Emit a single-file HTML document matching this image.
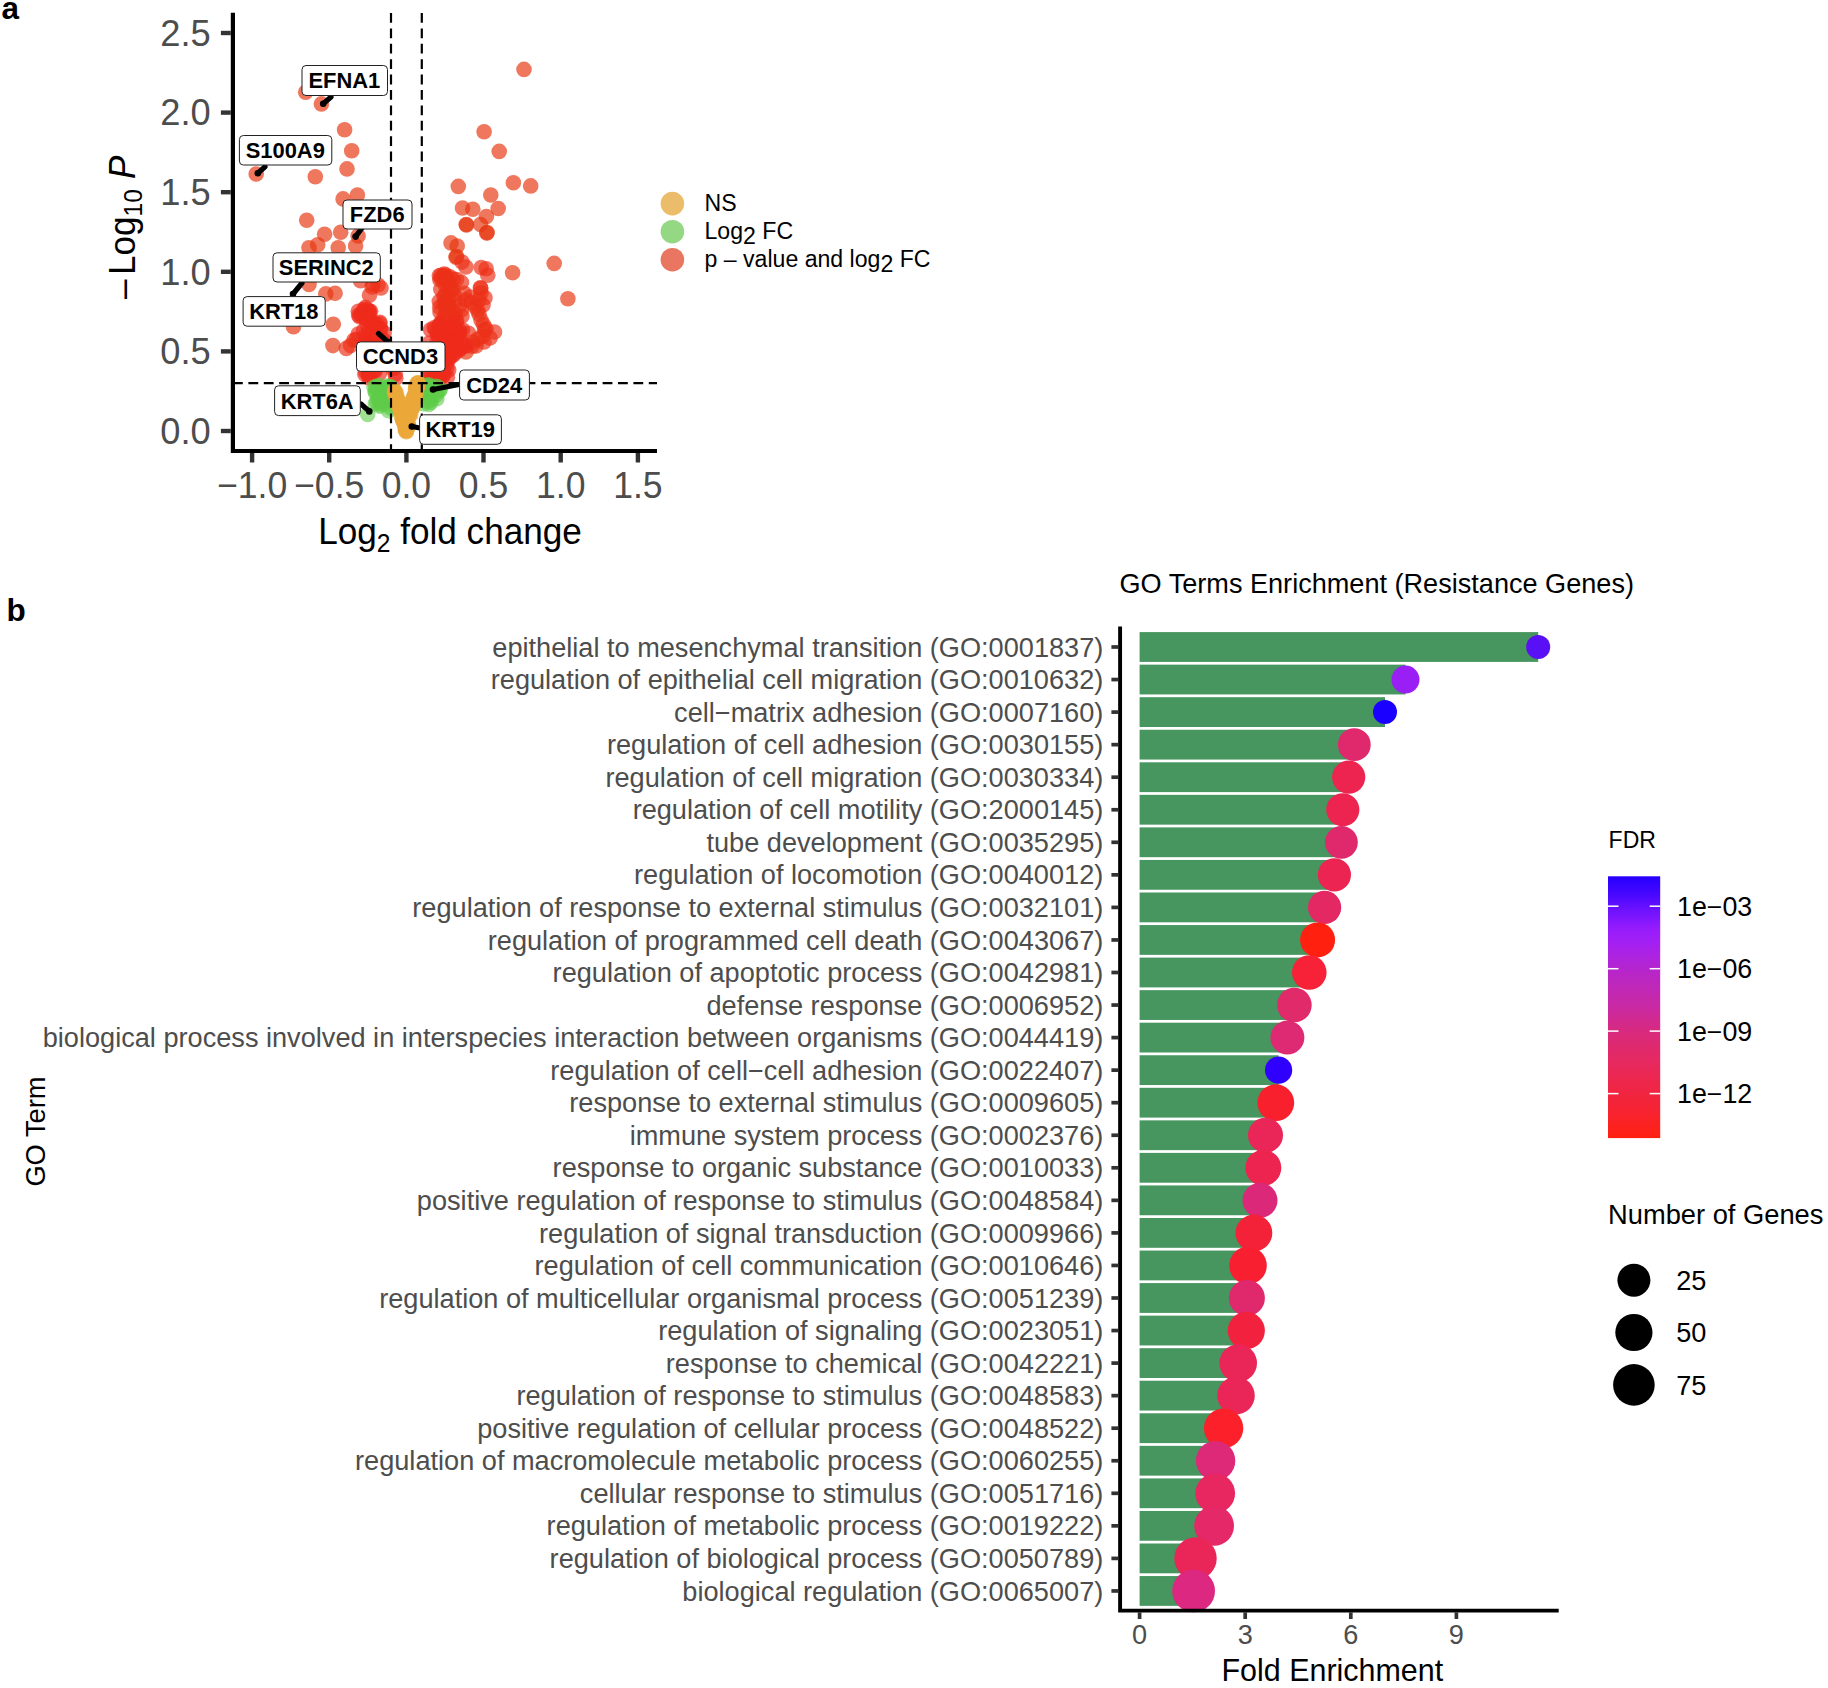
<!DOCTYPE html>
<html lang="en"><head><meta charset="utf-8"><title>Figure</title>
<style>html,body{margin:0;padding:0;background:#fff}svg{display:block}text{font-family:"Liberation Sans", sans-serif}</style></head>
<body>
<svg width="1828" height="1688" viewBox="0 0 1828 1688">
<rect width="1828" height="1688" fill="#fff"/>
<g id="panel-a">
<text x="1.5" y="18.5" font-size="31.5" font-weight="bold" fill="#000">a</text>
<g fill="#E63610" fill-opacity="0.68">
<circle cx="524.0" cy="69.4" r="7.8"/>
<circle cx="305.7" cy="92.3" r="7.8"/>
<circle cx="321.4" cy="103.9" r="7.8"/>
<circle cx="344.6" cy="129.7" r="7.8"/>
<circle cx="351.7" cy="150.7" r="7.8"/>
<circle cx="347.0" cy="168.9" r="7.8"/>
<circle cx="315.3" cy="176.7" r="7.8"/>
<circle cx="256.2" cy="174.0" r="7.8"/>
<circle cx="484.1" cy="131.7" r="7.8"/>
<circle cx="499.2" cy="151.4" r="7.8"/>
<circle cx="458.3" cy="186.4" r="7.8"/>
<circle cx="513.4" cy="182.7" r="7.8"/>
<circle cx="530.7" cy="185.9" r="7.8"/>
<circle cx="490.8" cy="195.0" r="7.8"/>
<circle cx="357.4" cy="195.0" r="7.8"/>
<circle cx="343.1" cy="198.9" r="7.8"/>
<circle cx="462.5" cy="208.0" r="7.8"/>
<circle cx="472.8" cy="209.2" r="7.8"/>
<circle cx="498.2" cy="208.5" r="7.8"/>
<circle cx="486.4" cy="216.6" r="7.8"/>
<circle cx="306.7" cy="220.3" r="7.8"/>
<circle cx="466.2" cy="224.5" r="7.8"/>
<circle cx="480.5" cy="224.5" r="7.8"/>
<circle cx="487.1" cy="232.6" r="7.8"/>
<circle cx="466.5" cy="225.0" r="7.8"/>
<circle cx="486.8" cy="233.0" r="7.8"/>
<circle cx="324.6" cy="234.2" r="7.8"/>
<circle cx="340.7" cy="232.3" r="7.8"/>
<circle cx="358.1" cy="236.0" r="7.8"/>
<circle cx="317.7" cy="244.7" r="7.8"/>
<circle cx="309.0" cy="247.8" r="7.8"/>
<circle cx="338.2" cy="247.8" r="7.8"/>
<circle cx="355.6" cy="246.0" r="7.8"/>
<circle cx="309.0" cy="284.5" r="7.8"/>
<circle cx="325.8" cy="293.9" r="7.8"/>
<circle cx="335.1" cy="293.2" r="7.8"/>
<circle cx="333.3" cy="324.3" r="7.8"/>
<circle cx="293.5" cy="326.8" r="7.8"/>
<circle cx="332.9" cy="345.6" r="7.8"/>
<circle cx="451.0" cy="242.9" r="7.8"/>
<circle cx="457.2" cy="246.0" r="7.8"/>
<circle cx="456.0" cy="257.2" r="7.8"/>
<circle cx="456.6" cy="256.6" r="7.8"/>
<circle cx="512.6" cy="272.7" r="7.8"/>
<circle cx="554.2" cy="263.4" r="7.8"/>
<circle cx="567.9" cy="298.8" r="7.8"/>
<circle cx="466.0" cy="352.0" r="7.8"/>
</g>
<g fill="#EC3018" fill-opacity="0.68">
<circle cx="373.0" cy="284.5" r="7.8"/>
<circle cx="360.6" cy="280.8" r="7.8"/>
<circle cx="378.0" cy="285.0" r="7.8"/>
<circle cx="381.0" cy="288.0" r="7.8"/>
<circle cx="372.0" cy="287.0" r="7.8"/>
<circle cx="369.5" cy="295.3" r="7.8"/>
<circle cx="365.4" cy="307.4" r="7.8"/>
<circle cx="350.6" cy="345.6" r="7.8"/>
<circle cx="346.3" cy="348.4" r="7.8"/>
<circle cx="353.9" cy="340.2" r="7.8"/>
<circle cx="356.3" cy="339.3" r="7.8"/>
<circle cx="462.0" cy="262.1" r="7.8"/>
<circle cx="465.9" cy="267.0" r="7.8"/>
<circle cx="486.1" cy="268.7" r="7.8"/>
<circle cx="481.2" cy="267.6" r="7.8"/>
<circle cx="487.8" cy="275.2" r="7.8"/>
<circle cx="443.4" cy="276.3" r="7.8"/>
<circle cx="450.0" cy="276.9" r="7.8"/>
<circle cx="456.6" cy="279.6" r="7.8"/>
<circle cx="461.5" cy="282.4" r="7.8"/>
<circle cx="447.0" cy="278.0" r="7.8"/>
<circle cx="453.0" cy="279.0" r="7.8"/>
<circle cx="480.4" cy="287.8" r="7.8"/>
<circle cx="480.8" cy="288.2" r="7.8"/>
<circle cx="485.0" cy="297.7" r="7.8"/>
<circle cx="445.6" cy="294.4" r="7.8"/>
<circle cx="448.9" cy="298.8" r="7.8"/>
<circle cx="464.2" cy="293.3" r="7.8"/>
<circle cx="471.3" cy="302.6" r="7.8"/>
<circle cx="475.2" cy="306.4" r="7.8"/>
<circle cx="479.0" cy="314.1" r="7.8"/>
<circle cx="461.5" cy="309.7" r="7.8"/>
<circle cx="453.3" cy="312.4" r="7.8"/>
<circle cx="445.1" cy="315.2" r="7.8"/>
<circle cx="442.4" cy="320.6" r="7.8"/>
<circle cx="456.6" cy="320.6" r="7.8"/>
<circle cx="483.4" cy="324.5" r="7.8"/>
<circle cx="486.1" cy="328.9" r="7.8"/>
<circle cx="494.5" cy="332.0" r="7.8"/>
<circle cx="434.1" cy="327.8" r="7.8"/>
<circle cx="439.6" cy="331.6" r="7.8"/>
<circle cx="450.6" cy="331.6" r="7.8"/>
<circle cx="468.6" cy="333.2" r="7.8"/>
<circle cx="458.8" cy="333.8" r="7.8"/>
<circle cx="446.0" cy="287.0" r="7.8"/>
<circle cx="451.0" cy="290.0" r="7.8"/>
<circle cx="444.0" cy="303.0" r="7.8"/>
<circle cx="449.0" cy="306.0" r="7.8"/>
<circle cx="455.0" cy="301.0" r="7.8"/>
<circle cx="466.0" cy="300.0" r="7.8"/>
<circle cx="470.0" cy="297.0" r="7.8"/>
<circle cx="446.0" cy="309.0" r="7.8"/>
<circle cx="451.0" cy="318.0" r="7.8"/>
<circle cx="462.0" cy="316.0" r="7.8"/>
<circle cx="440.0" cy="312.0" r="7.8"/>
<circle cx="479.0" cy="300.0" r="7.8"/>
<circle cx="477.5" cy="310.0" r="7.8"/>
<circle cx="481.0" cy="320.0" r="7.8"/>
<circle cx="484.5" cy="330.0" r="7.8"/>
<circle cx="478.0" cy="339.0" r="7.8"/>
<circle cx="472.5" cy="342.0" r="7.8"/>
<circle cx="481.0" cy="293.0" r="7.8"/>
<circle cx="483.0" cy="305.0" r="7.8"/>
<circle cx="482.1" cy="336.8" r="7.8"/>
<circle cx="490.0" cy="338.0" r="7.8"/>
<circle cx="484.0" cy="342.0" r="7.8"/>
<circle cx="476.0" cy="346.0" r="7.8"/>
<circle cx="472.1" cy="346.2" r="7.8"/>
<circle cx="459.7" cy="348.7" r="7.8"/>
<circle cx="440.8" cy="289.5" r="7.8"/>
<circle cx="439.7" cy="307.2" r="7.8"/>
<circle cx="445.8" cy="300.9" r="7.8"/>
<circle cx="445.5" cy="275.1" r="7.8"/>
<circle cx="444.3" cy="274.0" r="7.8"/>
<circle cx="439.4" cy="275.8" r="7.8"/>
<circle cx="454.3" cy="294.9" r="7.8"/>
<circle cx="441.5" cy="278.7" r="7.8"/>
<circle cx="459.3" cy="305.9" r="7.8"/>
<circle cx="446.6" cy="303.2" r="7.8"/>
<circle cx="439.3" cy="324.7" r="7.8"/>
<circle cx="445.4" cy="318.4" r="7.8"/>
<circle cx="439.9" cy="279.8" r="7.8"/>
<circle cx="452.8" cy="288.7" r="7.8"/>
<circle cx="447.6" cy="281.8" r="7.8"/>
<circle cx="446.4" cy="306.5" r="7.8"/>
<circle cx="439.3" cy="301.6" r="7.8"/>
<circle cx="441.0" cy="275.2" r="7.8"/>
<circle cx="447.9" cy="308.7" r="7.8"/>
<circle cx="448.7" cy="289.0" r="7.8"/>
<circle cx="444.0" cy="296.5" r="7.8"/>
<circle cx="455.3" cy="314.9" r="7.8"/>
</g>
<g fill="#EE2A1C" fill-opacity="0.66">
<circle cx="369.2" cy="318.0" r="7.8"/>
<circle cx="380.3" cy="328.4" r="7.8"/>
<circle cx="365.1" cy="336.0" r="7.8"/>
<circle cx="364.4" cy="345.3" r="7.8"/>
<circle cx="376.7" cy="324.5" r="7.8"/>
<circle cx="366.8" cy="314.6" r="7.8"/>
<circle cx="368.3" cy="310.5" r="7.8"/>
<circle cx="373.2" cy="337.3" r="7.8"/>
<circle cx="367.2" cy="341.4" r="7.8"/>
<circle cx="373.4" cy="334.7" r="7.8"/>
<circle cx="368.8" cy="330.5" r="7.8"/>
<circle cx="383.8" cy="340.1" r="7.8"/>
<circle cx="374.3" cy="326.5" r="7.8"/>
<circle cx="369.4" cy="311.2" r="7.8"/>
<circle cx="384.2" cy="332.9" r="7.8"/>
<circle cx="365.7" cy="339.4" r="7.8"/>
<circle cx="374.2" cy="323.3" r="7.8"/>
<circle cx="364.7" cy="309.8" r="7.8"/>
<circle cx="358.6" cy="315.2" r="7.8"/>
<circle cx="370.6" cy="311.2" r="7.8"/>
<circle cx="361.4" cy="313.8" r="7.8"/>
<circle cx="379.7" cy="323.5" r="7.8"/>
<circle cx="365.2" cy="312.0" r="7.8"/>
<circle cx="380.7" cy="329.3" r="7.8"/>
<circle cx="381.5" cy="339.3" r="7.8"/>
<circle cx="366.1" cy="319.3" r="7.8"/>
<circle cx="379.9" cy="322.3" r="7.8"/>
<circle cx="364.7" cy="344.4" r="7.8"/>
<circle cx="361.2" cy="315.5" r="7.8"/>
<circle cx="367.1" cy="317.6" r="7.8"/>
<circle cx="363.5" cy="330.8" r="7.8"/>
<circle cx="363.9" cy="309.2" r="7.8"/>
<circle cx="371.3" cy="322.7" r="7.8"/>
<circle cx="378.1" cy="344.3" r="7.8"/>
<circle cx="373.1" cy="328.1" r="7.8"/>
<circle cx="358.3" cy="334.0" r="7.8"/>
<circle cx="379.8" cy="342.3" r="7.8"/>
<circle cx="380.1" cy="341.4" r="7.8"/>
<circle cx="366.8" cy="323.5" r="7.8"/>
<circle cx="369.2" cy="312.8" r="7.8"/>
<circle cx="358.3" cy="311.3" r="7.8"/>
<circle cx="359.7" cy="316.7" r="7.8"/>
<circle cx="365.7" cy="372.1" r="7.8"/>
<circle cx="368.8" cy="368.0" r="7.8"/>
<circle cx="375.6" cy="369.2" r="7.8"/>
<circle cx="392.0" cy="368.3" r="7.8"/>
<circle cx="368.8" cy="375.4" r="7.8"/>
<circle cx="375.1" cy="371.0" r="7.8"/>
<circle cx="367.9" cy="372.4" r="7.8"/>
<circle cx="395.8" cy="378.2" r="7.8"/>
<circle cx="379.5" cy="373.6" r="7.8"/>
<circle cx="367.3" cy="369.0" r="7.8"/>
<circle cx="372.5" cy="372.1" r="7.8"/>
<circle cx="369.2" cy="377.9" r="7.8"/>
<circle cx="394.4" cy="368.3" r="7.8"/>
<circle cx="368.7" cy="374.3" r="7.8"/>
<circle cx="364.9" cy="374.5" r="7.8"/>
<circle cx="395.3" cy="374.3" r="7.8"/>
<circle cx="441.2" cy="372.9" r="7.8"/>
<circle cx="443.6" cy="337.4" r="7.8"/>
<circle cx="458.4" cy="331.9" r="7.8"/>
<circle cx="450.2" cy="353.4" r="7.8"/>
<circle cx="437.2" cy="341.5" r="7.8"/>
<circle cx="448.7" cy="369.9" r="7.8"/>
<circle cx="444.0" cy="372.3" r="7.8"/>
<circle cx="442.8" cy="370.3" r="7.8"/>
<circle cx="449.5" cy="335.4" r="7.8"/>
<circle cx="429.2" cy="343.0" r="7.8"/>
<circle cx="440.9" cy="323.6" r="7.8"/>
<circle cx="457.0" cy="337.3" r="7.8"/>
<circle cx="433.8" cy="378.4" r="7.8"/>
<circle cx="447.4" cy="377.3" r="7.8"/>
<circle cx="431.8" cy="378.3" r="7.8"/>
<circle cx="438.0" cy="335.0" r="7.8"/>
<circle cx="437.2" cy="333.6" r="7.8"/>
<circle cx="448.8" cy="358.8" r="7.8"/>
<circle cx="436.3" cy="371.6" r="7.8"/>
<circle cx="445.4" cy="360.5" r="7.8"/>
<circle cx="453.2" cy="327.0" r="7.8"/>
<circle cx="442.7" cy="375.7" r="7.8"/>
<circle cx="437.5" cy="366.3" r="7.8"/>
<circle cx="459.3" cy="332.5" r="7.8"/>
<circle cx="460.9" cy="341.6" r="7.8"/>
<circle cx="432.3" cy="379.3" r="7.8"/>
<circle cx="465.9" cy="345.7" r="7.8"/>
<circle cx="430.8" cy="364.8" r="7.8"/>
<circle cx="435.6" cy="329.5" r="7.8"/>
<circle cx="443.3" cy="375.4" r="7.8"/>
<circle cx="460.0" cy="330.6" r="7.8"/>
<circle cx="438.7" cy="379.8" r="7.8"/>
<circle cx="450.4" cy="342.7" r="7.8"/>
<circle cx="430.6" cy="329.7" r="7.8"/>
<circle cx="438.6" cy="379.3" r="7.8"/>
<circle cx="455.0" cy="353.1" r="7.8"/>
<circle cx="460.6" cy="347.6" r="7.8"/>
<circle cx="430.2" cy="370.7" r="7.8"/>
<circle cx="440.6" cy="336.9" r="7.8"/>
<circle cx="452.4" cy="336.2" r="7.8"/>
<circle cx="445.8" cy="337.3" r="7.8"/>
<circle cx="462.6" cy="329.7" r="7.8"/>
<circle cx="446.7" cy="342.9" r="7.8"/>
<circle cx="451.1" cy="356.4" r="7.8"/>
<circle cx="463.5" cy="346.8" r="7.8"/>
<circle cx="444.3" cy="351.6" r="7.8"/>
<circle cx="428.5" cy="352.9" r="7.8"/>
<circle cx="434.7" cy="348.0" r="7.8"/>
<circle cx="456.3" cy="322.2" r="7.8"/>
<circle cx="447.3" cy="332.2" r="7.8"/>
<circle cx="439.5" cy="364.8" r="7.8"/>
<circle cx="449.4" cy="341.2" r="7.8"/>
<circle cx="449.3" cy="354.8" r="7.8"/>
<circle cx="450.0" cy="328.3" r="7.8"/>
<circle cx="439.9" cy="336.7" r="7.8"/>
<circle cx="437.9" cy="367.6" r="7.8"/>
<circle cx="448.4" cy="355.1" r="7.8"/>
<circle cx="434.4" cy="375.8" r="7.8"/>
<circle cx="439.8" cy="358.1" r="7.8"/>
<circle cx="448.6" cy="352.2" r="7.8"/>
<circle cx="446.9" cy="348.7" r="7.8"/>
<circle cx="459.1" cy="350.2" r="7.8"/>
<circle cx="446.9" cy="363.3" r="7.8"/>
<circle cx="429.4" cy="377.6" r="7.8"/>
<circle cx="453.4" cy="355.0" r="7.8"/>
<circle cx="428.2" cy="371.6" r="7.8"/>
<circle cx="445.9" cy="329.2" r="7.8"/>
<circle cx="439.3" cy="326.3" r="7.8"/>
<circle cx="453.3" cy="326.3" r="7.8"/>
<circle cx="446.8" cy="368.3" r="7.8"/>
</g>
<g fill="#5FCC4A" fill-opacity="0.6">
<circle cx="385.9" cy="389.0" r="7.8"/>
<circle cx="376.8" cy="402.2" r="7.8"/>
<circle cx="390.5" cy="408.0" r="7.8"/>
<circle cx="390.1" cy="390.7" r="7.8"/>
<circle cx="381.8" cy="395.4" r="7.8"/>
<circle cx="388.7" cy="410.7" r="7.8"/>
<circle cx="380.8" cy="389.2" r="7.8"/>
<circle cx="379.2" cy="398.4" r="7.8"/>
<circle cx="378.7" cy="390.1" r="7.8"/>
<circle cx="375.3" cy="403.8" r="7.8"/>
<circle cx="381.2" cy="399.4" r="7.8"/>
<circle cx="379.0" cy="385.5" r="7.8"/>
<circle cx="382.8" cy="401.2" r="7.8"/>
<circle cx="390.7" cy="386.7" r="7.8"/>
<circle cx="390.6" cy="405.5" r="7.8"/>
<circle cx="377.8" cy="387.7" r="7.8"/>
<circle cx="387.0" cy="386.0" r="7.8"/>
<circle cx="375.3" cy="392.0" r="7.8"/>
<circle cx="389.4" cy="396.0" r="7.8"/>
<circle cx="379.8" cy="406.3" r="7.8"/>
<circle cx="389.5" cy="388.9" r="7.8"/>
<circle cx="385.8" cy="399.8" r="7.8"/>
<circle cx="374.0" cy="387.3" r="7.8"/>
<circle cx="381.6" cy="402.9" r="7.8"/>
<circle cx="389.9" cy="386.9" r="7.8"/>
<circle cx="387.7" cy="401.5" r="7.8"/>
<circle cx="388.4" cy="387.2" r="7.8"/>
<circle cx="388.5" cy="386.7" r="7.8"/>
<circle cx="379.1" cy="396.8" r="7.8"/>
<circle cx="389.7" cy="399.4" r="7.8"/>
<circle cx="375.3" cy="392.0" r="7.8"/>
<circle cx="377.5" cy="398.7" r="7.8"/>
<circle cx="375.9" cy="387.8" r="7.8"/>
<circle cx="376.6" cy="386.3" r="7.8"/>
<circle cx="378.5" cy="393.1" r="7.8"/>
<circle cx="379.9" cy="404.7" r="7.8"/>
<circle cx="425.0" cy="395.0" r="7.8"/>
<circle cx="422.3" cy="391.9" r="7.8"/>
<circle cx="422.3" cy="390.0" r="7.8"/>
<circle cx="430.1" cy="399.7" r="7.8"/>
<circle cx="430.8" cy="388.8" r="7.8"/>
<circle cx="423.3" cy="403.7" r="7.8"/>
<circle cx="428.0" cy="401.4" r="7.8"/>
<circle cx="436.2" cy="394.9" r="7.8"/>
<circle cx="431.2" cy="392.9" r="7.8"/>
<circle cx="436.9" cy="398.8" r="7.8"/>
<circle cx="437.4" cy="391.9" r="7.8"/>
<circle cx="431.5" cy="399.1" r="7.8"/>
<circle cx="428.2" cy="393.1" r="7.8"/>
<circle cx="424.4" cy="386.1" r="7.8"/>
<circle cx="435.7" cy="386.4" r="7.8"/>
<circle cx="425.0" cy="390.1" r="7.8"/>
<circle cx="437.6" cy="386.7" r="7.8"/>
<circle cx="430.9" cy="402.4" r="7.8"/>
<circle cx="426.5" cy="390.6" r="7.8"/>
<circle cx="430.5" cy="390.9" r="7.8"/>
<circle cx="430.2" cy="388.2" r="7.8"/>
<circle cx="439.8" cy="390.3" r="7.8"/>
<circle cx="428.7" cy="404.5" r="7.8"/>
<circle cx="439.9" cy="389.9" r="7.8"/>
<circle cx="428.6" cy="391.2" r="7.8"/>
<circle cx="429.1" cy="385.0" r="7.8"/>
<circle cx="430.7" cy="394.5" r="7.8"/>
<circle cx="431.3" cy="389.0" r="7.8"/>
<circle cx="426.9" cy="385.1" r="7.8"/>
<circle cx="429.4" cy="386.8" r="7.8"/>
<circle cx="367.7" cy="414.5" r="7.8"/>
</g>
<g fill="#EBA83A" fill-opacity="0.75">
<circle cx="406.1" cy="428.6" r="7.8"/>
<circle cx="404.0" cy="421.5" r="7.8"/>
<circle cx="415.1" cy="395.4" r="7.8"/>
<circle cx="395.7" cy="394.6" r="7.8"/>
<circle cx="416.6" cy="384.2" r="7.8"/>
<circle cx="397.9" cy="405.3" r="7.8"/>
<circle cx="416.6" cy="388.7" r="7.8"/>
<circle cx="396.1" cy="397.7" r="7.8"/>
<circle cx="412.8" cy="407.4" r="7.8"/>
<circle cx="396.8" cy="397.9" r="7.8"/>
<circle cx="414.4" cy="397.7" r="7.8"/>
<circle cx="405.5" cy="429.4" r="7.8"/>
<circle cx="408.4" cy="426.1" r="7.8"/>
<circle cx="399.3" cy="405.6" r="7.8"/>
<circle cx="410.9" cy="408.1" r="7.8"/>
<circle cx="397.6" cy="400.4" r="7.8"/>
<circle cx="412.9" cy="399.8" r="7.8"/>
<circle cx="402.7" cy="420.2" r="7.8"/>
<circle cx="414.0" cy="396.5" r="7.8"/>
<circle cx="394.8" cy="390.8" r="7.8"/>
<circle cx="412.2" cy="408.5" r="7.8"/>
<circle cx="399.4" cy="404.9" r="7.8"/>
<circle cx="407.7" cy="424.4" r="7.8"/>
<circle cx="403.1" cy="417.5" r="7.8"/>
<circle cx="406.8" cy="428.4" r="7.8"/>
<circle cx="398.6" cy="402.2" r="7.8"/>
<circle cx="412.2" cy="406.1" r="7.8"/>
<circle cx="406.0" cy="425.5" r="7.8"/>
<circle cx="418.1" cy="383.1" r="7.8"/>
<circle cx="401.7" cy="413.1" r="7.8"/>
<circle cx="411.0" cy="408.8" r="7.8"/>
<circle cx="394.6" cy="392.4" r="7.8"/>
<circle cx="408.2" cy="425.1" r="7.8"/>
<circle cx="405.6" cy="425.6" r="7.8"/>
<circle cx="416.7" cy="387.9" r="7.8"/>
<circle cx="395.7" cy="393.2" r="7.8"/>
<circle cx="406.6" cy="430.7" r="7.8"/>
<circle cx="402.2" cy="418.3" r="7.8"/>
<circle cx="410.7" cy="414.8" r="7.8"/>
<circle cx="398.2" cy="399.5" r="7.8"/>
<circle cx="417.1" cy="387.3" r="7.8"/>
<circle cx="402.8" cy="418.9" r="7.8"/>
<circle cx="417.7" cy="382.8" r="7.8"/>
<circle cx="401.0" cy="412.5" r="7.8"/>
<circle cx="408.4" cy="425.7" r="7.8"/>
<circle cx="394.8" cy="392.2" r="7.8"/>
<circle cx="411.5" cy="406.2" r="7.8"/>
<circle cx="395.8" cy="392.4" r="7.8"/>
<circle cx="414.3" cy="401.6" r="7.8"/>
<circle cx="400.4" cy="407.6" r="7.8"/>
<circle cx="414.5" cy="396.4" r="7.8"/>
<circle cx="398.4" cy="403.7" r="7.8"/>
<circle cx="416.0" cy="386.5" r="7.8"/>
<circle cx="402.0" cy="417.4" r="7.8"/>
<circle cx="416.8" cy="384.4" r="7.8"/>
<circle cx="403.1" cy="418.5" r="7.8"/>
<circle cx="407.7" cy="422.4" r="7.8"/>
<circle cx="395.6" cy="393.3" r="7.8"/>
<circle cx="417.5" cy="387.4" r="7.8"/>
<circle cx="404.3" cy="424.5" r="7.8"/>
<circle cx="409.5" cy="414.1" r="7.8"/>
<circle cx="403.6" cy="421.2" r="7.8"/>
<circle cx="414.6" cy="394.8" r="7.8"/>
<circle cx="400.0" cy="409.2" r="7.8"/>
<circle cx="406.8" cy="429.0" r="7.8"/>
<circle cx="405.1" cy="426.1" r="7.8"/>
<circle cx="415.4" cy="389.1" r="7.8"/>
<circle cx="403.4" cy="420.7" r="7.8"/>
<circle cx="417.7" cy="386.0" r="7.8"/>
<circle cx="405.4" cy="430.5" r="7.8"/>
<circle cx="416.3" cy="388.2" r="7.8"/>
<circle cx="406.4" cy="431.8" r="7.8"/>
<circle cx="416.3" cy="392.3" r="7.8"/>
<circle cx="402.8" cy="420.1" r="7.8"/>
<circle cx="412.7" cy="406.8" r="7.8"/>
<circle cx="398.2" cy="401.9" r="7.8"/>
<circle cx="411.7" cy="408.1" r="7.8"/>
<circle cx="396.6" cy="399.8" r="7.8"/>
<circle cx="413.2" cy="399.3" r="7.8"/>
<circle cx="403.8" cy="421.1" r="7.8"/>
<circle cx="407.0" cy="425.7" r="7.8"/>
<circle cx="399.3" cy="406.5" r="7.8"/>
<circle cx="412.2" cy="401.8" r="7.8"/>
<circle cx="401.9" cy="412.4" r="7.8"/>
<circle cx="416.2" cy="388.0" r="7.8"/>
<circle cx="404.5" cy="421.3" r="7.8"/>
<circle cx="409.0" cy="416.2" r="7.8"/>
<circle cx="398.3" cy="402.9" r="7.8"/>
<circle cx="414.7" cy="398.4" r="7.8"/>
<circle cx="405.9" cy="429.4" r="7.8"/>
</g>
<g stroke="#000" stroke-width="2.2" stroke-dasharray="9.8,5.6" fill="none">
<line x1="391.0" y1="13" x2="391.0" y2="451"/>
<line x1="421.8" y1="13" x2="421.8" y2="451"/>
<line x1="233" y1="383.1" x2="657" y2="383.1"/>
</g>
<g stroke="#000" stroke-width="4.2" fill="none" stroke-linecap="butt">
<path d="M232.9 12.8 V451 H657"/>
</g>
<g stroke="#333" stroke-width="4.4" fill="none">
<line x1="220.9" y1="431.0" x2="230.8" y2="431.0"/>
<line x1="220.9" y1="351.4" x2="230.8" y2="351.4"/>
<line x1="220.9" y1="271.8" x2="230.8" y2="271.8"/>
<line x1="220.9" y1="192.2" x2="230.8" y2="192.2"/>
<line x1="220.9" y1="112.6" x2="230.8" y2="112.6"/>
<line x1="220.9" y1="33.0" x2="230.8" y2="33.0"/>
<line x1="252.1" y1="453" x2="252.1" y2="462.5"/>
<line x1="329.2" y1="453" x2="329.2" y2="462.5"/>
<line x1="406.4" y1="453" x2="406.4" y2="462.5"/>
<line x1="483.5" y1="453" x2="483.5" y2="462.5"/>
<line x1="560.7" y1="453" x2="560.7" y2="462.5"/>
<line x1="637.9" y1="453" x2="637.9" y2="462.5"/>
</g>
<text x="210.8" y="443.8" font-size="36.3" text-anchor="end" fill="#4D4D4D">0.0</text>
<text x="210.8" y="364.2" font-size="36.3" text-anchor="end" fill="#4D4D4D">0.5</text>
<text x="210.8" y="284.6" font-size="36.3" text-anchor="end" fill="#4D4D4D">1.0</text>
<text x="210.8" y="205.0" font-size="36.3" text-anchor="end" fill="#4D4D4D">1.5</text>
<text x="210.8" y="125.4" font-size="36.3" text-anchor="end" fill="#4D4D4D">2.0</text>
<text x="210.8" y="45.8" font-size="36.3" text-anchor="end" fill="#4D4D4D">2.5</text>
<text transform="translate(252.1,497.5) scale(0.98,1)" font-size="36.3" text-anchor="middle" fill="#4D4D4D">−1.0</text>
<text transform="translate(329.2,497.5) scale(0.98,1)" font-size="36.3" text-anchor="middle" fill="#4D4D4D">−0.5</text>
<text transform="translate(406.4,497.5) scale(0.98,1)" font-size="36.3" text-anchor="middle" fill="#4D4D4D">0.0</text>
<text transform="translate(483.5,497.5) scale(0.98,1)" font-size="36.3" text-anchor="middle" fill="#4D4D4D">0.5</text>
<text transform="translate(560.7,497.5) scale(0.98,1)" font-size="36.3" text-anchor="middle" fill="#4D4D4D">1.0</text>
<text transform="translate(637.9,497.5) scale(0.98,1)" font-size="36.3" text-anchor="middle" fill="#4D4D4D">1.5</text>
<text transform="translate(450,544.4) scale(0.96,1)" font-size="36.6" text-anchor="middle" fill="#000">Log<tspan font-size="25.6" dy="7.5">2</tspan><tspan dy="-7.5"> fold change</tspan></text>
<g transform="translate(135.2,298.9) rotate(-90) scale(0.96,1)" font-size="36.6" fill="#000">
<text x="0" y="0">–</text>
<text x="24.8" y="0">Log<tspan font-size="25.6" dy="6.3">10</tspan></text>
<text x="124.9" y="0" font-style="italic">P</text>
</g>
<line x1="331" y1="97" x2="323.2" y2="103.7" stroke="#000" stroke-width="5.2" stroke-linecap="round"/>
<circle cx="323.2" cy="103.7" r="3.3" fill="#000"/>
<line x1="265" y1="166.7" x2="257.8" y2="173.2" stroke="#000" stroke-width="5.2" stroke-linecap="round"/>
<circle cx="257.8" cy="173.2" r="3.3" fill="#000"/>
<line x1="362" y1="228" x2="355.6" y2="236.6" stroke="#000" stroke-width="5.2" stroke-linecap="round"/>
<circle cx="355.6" cy="236.6" r="3.3" fill="#000"/>
<line x1="302" y1="283" x2="293" y2="294" stroke="#000" stroke-width="5.2" stroke-linecap="round"/>
<circle cx="293" cy="294" r="3.3" fill="#000"/>
<line x1="378.5" y1="333.5" x2="388" y2="342" stroke="#000" stroke-width="5.2" stroke-linecap="round"/>
<circle cx="388" cy="342" r="3.3" fill="#000"/>
<line x1="459" y1="384.5" x2="433" y2="389.5" stroke="#000" stroke-width="5.2" stroke-linecap="round"/>
<circle cx="433" cy="389.5" r="3.3" fill="#000"/>
<line x1="361" y1="404" x2="369.3" y2="411.4" stroke="#000" stroke-width="5.2" stroke-linecap="round"/>
<circle cx="369.3" cy="411.4" r="3.3" fill="#000"/>
<line x1="420" y1="428" x2="411.8" y2="426.5" stroke="#000" stroke-width="5.2" stroke-linecap="round"/>
<circle cx="411.8" cy="426.5" r="3.3" fill="#000"/>
<rect x="302" y="65.5" width="85.5" height="30.0" rx="4" fill="#fff" stroke="#222" stroke-width="1"/>
<text x="344.4" y="88.3" font-size="21.9" text-anchor="middle" font-weight="bold" fill="#000">EFNA1</text>
<rect x="239.4" y="135.5" width="92.4" height="29.5" rx="4" fill="#fff" stroke="#222" stroke-width="1"/>
<text x="285.3" y="158.1" font-size="21.9" text-anchor="middle" font-weight="bold" fill="#000">S100A9</text>
<rect x="343" y="200" width="69.0" height="29.0" rx="4" fill="#fff" stroke="#222" stroke-width="1"/>
<text x="377.2" y="222.3" font-size="21.9" text-anchor="middle" font-weight="bold" fill="#000">FZD6</text>
<rect x="273" y="252.8" width="107.3" height="29.2" rx="4" fill="#fff" stroke="#222" stroke-width="1"/>
<text x="326.3" y="275.2" font-size="21.9" text-anchor="middle" font-weight="bold" fill="#000">SERINC2</text>
<rect x="243.1" y="296.6" width="82.1" height="29.6" rx="4" fill="#fff" stroke="#222" stroke-width="1"/>
<text x="283.8" y="319.2" font-size="21.9" text-anchor="middle" font-weight="bold" fill="#000">KRT18</text>
<rect x="356.5" y="341.9" width="88.5" height="29.5" rx="4" fill="#fff" stroke="#222" stroke-width="1"/>
<text x="400.4" y="364.4" font-size="21.9" text-anchor="middle" font-weight="bold" fill="#000">CCND3</text>
<rect x="459.6" y="370" width="69.8" height="30.0" rx="4" fill="#fff" stroke="#222" stroke-width="1"/>
<text x="494.2" y="392.8" font-size="21.9" text-anchor="middle" font-weight="bold" fill="#000">CD24</text>
<rect x="274.6" y="385.8" width="85.7" height="29.8" rx="4" fill="#fff" stroke="#222" stroke-width="1"/>
<text x="317.2" y="408.5" font-size="21.9" text-anchor="middle" font-weight="bold" fill="#000">KRT6A</text>
<rect x="419.6" y="414.8" width="81.8" height="29.5" rx="4" fill="#fff" stroke="#222" stroke-width="1"/>
<text x="460.2" y="437.4" font-size="21.9" text-anchor="middle" font-weight="bold" fill="#000">KRT19</text>
<circle cx="672.4" cy="203.6" r="11.8" fill="#EBBD6A"/>
<circle cx="672.4" cy="231.7" r="11.8" fill="#94D884"/>
<circle cx="672.4" cy="259.7" r="11.8" fill="#E87660"/>
<text x="704.5" y="210.8" font-size="23.1" fill="#000">NS</text>
<text x="704.5" y="238.8" font-size="23.1">Log<tspan font-size="23.1" dy="5">2</tspan><tspan dy="-5"> FC</tspan></text>
<text x="704.5" y="266.9" font-size="23.1">p – value and log<tspan font-size="23.1" dy="5">2</tspan><tspan dy="-5"> FC</tspan></text>
</g>
<g id="panel-b">
<text x="6.6" y="621.0" font-size="31.5" font-weight="bold" fill="#000">b</text>
<text x="1119.5" y="593.1" font-size="27.1" fill="#000">GO Terms Enrichment (Resistance Genes)</text>
<g fill="#47955F">
<rect x="1139.6" y="632.10" width="398.6" height="29.8"/>
<rect x="1139.6" y="664.65" width="265.9" height="29.8"/>
<rect x="1139.6" y="697.20" width="245.4" height="29.8"/>
<rect x="1139.6" y="729.75" width="214.7" height="29.8"/>
<rect x="1139.6" y="762.30" width="209.1" height="29.8"/>
<rect x="1139.6" y="794.85" width="203.2" height="29.8"/>
<rect x="1139.6" y="827.40" width="201.8" height="29.8"/>
<rect x="1139.6" y="859.95" width="194.8" height="29.8"/>
<rect x="1139.6" y="892.50" width="185.0" height="29.8"/>
<rect x="1139.6" y="925.05" width="178.0" height="29.8"/>
<rect x="1139.6" y="957.60" width="169.7" height="29.8"/>
<rect x="1139.6" y="990.15" width="154.8" height="29.8"/>
<rect x="1139.6" y="1022.70" width="147.8" height="29.8"/>
<rect x="1139.6" y="1055.25" width="139.0" height="29.8"/>
<rect x="1139.6" y="1087.80" width="136.2" height="29.8"/>
<rect x="1139.6" y="1120.35" width="125.9" height="29.8"/>
<rect x="1139.6" y="1152.90" width="123.7" height="29.8"/>
<rect x="1139.6" y="1185.45" width="120.4" height="29.8"/>
<rect x="1139.6" y="1218.00" width="114.3" height="29.8"/>
<rect x="1139.6" y="1250.55" width="108.4" height="29.8"/>
<rect x="1139.6" y="1283.10" width="107.3" height="29.8"/>
<rect x="1139.6" y="1315.65" width="106.7" height="29.8"/>
<rect x="1139.6" y="1348.20" width="98.6" height="29.8"/>
<rect x="1139.6" y="1380.75" width="96.4" height="29.8"/>
<rect x="1139.6" y="1413.30" width="84.0" height="29.8"/>
<rect x="1139.6" y="1445.85" width="76.0" height="29.8"/>
<rect x="1139.6" y="1478.40" width="75.6" height="29.8"/>
<rect x="1139.6" y="1510.95" width="74.5" height="29.8"/>
<rect x="1139.6" y="1543.50" width="55.9" height="29.8"/>
<rect x="1139.6" y="1576.05" width="54.0" height="29.8"/>
</g>
<circle cx="1538.2" cy="647.00" r="12" fill="#5A10F5"/>
<circle cx="1405.5" cy="679.55" r="14" fill="#9A1FF5"/>
<circle cx="1385" cy="712.10" r="12" fill="#1A00FF"/>
<circle cx="1354.3" cy="744.65" r="16.4" fill="#E0286C"/>
<circle cx="1348.7" cy="777.20" r="16.6" fill="#EE2450"/>
<circle cx="1342.8" cy="809.75" r="16.6" fill="#EE2450"/>
<circle cx="1341.4" cy="842.30" r="16.4" fill="#E0286C"/>
<circle cx="1334.4" cy="874.85" r="16.6" fill="#EC2452"/>
<circle cx="1324.6" cy="907.40" r="16.6" fill="#E42864"/>
<circle cx="1317.6" cy="939.95" r="17.5" fill="#FF2010"/>
<circle cx="1309.3" cy="972.50" r="17.3" fill="#F82238"/>
<circle cx="1294.4" cy="1005.05" r="17.3" fill="#E02A6A"/>
<circle cx="1287.4" cy="1037.60" r="17" fill="#DE2A72"/>
<circle cx="1278.6" cy="1070.15" r="13.6" fill="#3000FF"/>
<circle cx="1275.8" cy="1102.70" r="18.4" fill="#F8202C"/>
<circle cx="1265.5" cy="1135.25" r="17.5" fill="#EA2658"/>
<circle cx="1263.3" cy="1167.80" r="18" fill="#EE2450"/>
<circle cx="1260" cy="1200.35" r="17.5" fill="#DC2878"/>
<circle cx="1253.9" cy="1232.90" r="18.4" fill="#F42238"/>
<circle cx="1248" cy="1265.45" r="18.8" fill="#F82030"/>
<circle cx="1246.9" cy="1298.00" r="18" fill="#E0286C"/>
<circle cx="1246.3" cy="1330.55" r="18.6" fill="#F2223E"/>
<circle cx="1238.2" cy="1363.10" r="18.8" fill="#EA2658"/>
<circle cx="1236" cy="1395.65" r="18.8" fill="#EA2658"/>
<circle cx="1223.6" cy="1428.20" r="19.7" fill="#FC202A"/>
<circle cx="1215.6" cy="1460.75" r="19.7" fill="#DE2878"/>
<circle cx="1215.2" cy="1493.30" r="19.9" fill="#E82660"/>
<circle cx="1214.1" cy="1525.85" r="19.9" fill="#E42868"/>
<circle cx="1195.5" cy="1558.40" r="21.2" fill="#EA2658"/>
<circle cx="1193.6" cy="1590.95" r="21.4" fill="#DC2880"/>
<path d="M1120.1 626.5 V1610.6 H1558.7" stroke="#000" stroke-width="3.9" fill="none"/>
<g stroke="#333" stroke-width="3.7">
<line x1="1111.4" y1="647.00" x2="1118.4" y2="647.00"/>
<line x1="1111.4" y1="679.55" x2="1118.4" y2="679.55"/>
<line x1="1111.4" y1="712.10" x2="1118.4" y2="712.10"/>
<line x1="1111.4" y1="744.65" x2="1118.4" y2="744.65"/>
<line x1="1111.4" y1="777.20" x2="1118.4" y2="777.20"/>
<line x1="1111.4" y1="809.75" x2="1118.4" y2="809.75"/>
<line x1="1111.4" y1="842.30" x2="1118.4" y2="842.30"/>
<line x1="1111.4" y1="874.85" x2="1118.4" y2="874.85"/>
<line x1="1111.4" y1="907.40" x2="1118.4" y2="907.40"/>
<line x1="1111.4" y1="939.95" x2="1118.4" y2="939.95"/>
<line x1="1111.4" y1="972.50" x2="1118.4" y2="972.50"/>
<line x1="1111.4" y1="1005.05" x2="1118.4" y2="1005.05"/>
<line x1="1111.4" y1="1037.60" x2="1118.4" y2="1037.60"/>
<line x1="1111.4" y1="1070.15" x2="1118.4" y2="1070.15"/>
<line x1="1111.4" y1="1102.70" x2="1118.4" y2="1102.70"/>
<line x1="1111.4" y1="1135.25" x2="1118.4" y2="1135.25"/>
<line x1="1111.4" y1="1167.80" x2="1118.4" y2="1167.80"/>
<line x1="1111.4" y1="1200.35" x2="1118.4" y2="1200.35"/>
<line x1="1111.4" y1="1232.90" x2="1118.4" y2="1232.90"/>
<line x1="1111.4" y1="1265.45" x2="1118.4" y2="1265.45"/>
<line x1="1111.4" y1="1298.00" x2="1118.4" y2="1298.00"/>
<line x1="1111.4" y1="1330.55" x2="1118.4" y2="1330.55"/>
<line x1="1111.4" y1="1363.10" x2="1118.4" y2="1363.10"/>
<line x1="1111.4" y1="1395.65" x2="1118.4" y2="1395.65"/>
<line x1="1111.4" y1="1428.20" x2="1118.4" y2="1428.20"/>
<line x1="1111.4" y1="1460.75" x2="1118.4" y2="1460.75"/>
<line x1="1111.4" y1="1493.30" x2="1118.4" y2="1493.30"/>
<line x1="1111.4" y1="1525.85" x2="1118.4" y2="1525.85"/>
<line x1="1111.4" y1="1558.40" x2="1118.4" y2="1558.40"/>
<line x1="1111.4" y1="1590.95" x2="1118.4" y2="1590.95"/>
<line x1="1139.6" y1="1612.3" x2="1139.6" y2="1619"/>
<line x1="1245.2" y1="1612.3" x2="1245.2" y2="1619"/>
<line x1="1350.8" y1="1612.3" x2="1350.8" y2="1619"/>
<line x1="1456.4" y1="1612.3" x2="1456.4" y2="1619"/>
</g>
<g font-size="27.15" text-anchor="end" fill="#4D4D4D">
<text x="1103.3" y="656.60">epithelial to mesenchymal transition (GO:0001837)</text>
<text x="1103.3" y="689.15">regulation of epithelial cell migration (GO:0010632)</text>
<text x="1103.3" y="721.70">cell−matrix adhesion (GO:0007160)</text>
<text x="1103.3" y="754.25">regulation of cell adhesion (GO:0030155)</text>
<text x="1103.3" y="786.80">regulation of cell migration (GO:0030334)</text>
<text x="1103.3" y="819.35">regulation of cell motility (GO:2000145)</text>
<text x="1103.3" y="851.90">tube development (GO:0035295)</text>
<text x="1103.3" y="884.45">regulation of locomotion (GO:0040012)</text>
<text x="1103.3" y="917.00">regulation of response to external stimulus (GO:0032101)</text>
<text x="1103.3" y="949.55">regulation of programmed cell death (GO:0043067)</text>
<text x="1103.3" y="982.10">regulation of apoptotic process (GO:0042981)</text>
<text x="1103.3" y="1014.65">defense response (GO:0006952)</text>
<text x="1103.3" y="1047.20">biological process involved in interspecies interaction between organisms (GO:0044419)</text>
<text x="1103.3" y="1079.75">regulation of cell−cell adhesion (GO:0022407)</text>
<text x="1103.3" y="1112.30">response to external stimulus (GO:0009605)</text>
<text x="1103.3" y="1144.85">immune system process (GO:0002376)</text>
<text x="1103.3" y="1177.40">response to organic substance (GO:0010033)</text>
<text x="1103.3" y="1209.95">positive regulation of response to stimulus (GO:0048584)</text>
<text x="1103.3" y="1242.50">regulation of signal transduction (GO:0009966)</text>
<text x="1103.3" y="1275.05">regulation of cell communication (GO:0010646)</text>
<text x="1103.3" y="1307.60">regulation of multicellular organismal process (GO:0051239)</text>
<text x="1103.3" y="1340.15">regulation of signaling (GO:0023051)</text>
<text x="1103.3" y="1372.70">response to chemical (GO:0042221)</text>
<text x="1103.3" y="1405.25">regulation of response to stimulus (GO:0048583)</text>
<text x="1103.3" y="1437.80">positive regulation of cellular process (GO:0048522)</text>
<text x="1103.3" y="1470.35">regulation of macromolecule metabolic process (GO:0060255)</text>
<text x="1103.3" y="1502.90">cellular response to stimulus (GO:0051716)</text>
<text x="1103.3" y="1535.45">regulation of metabolic process (GO:0019222)</text>
<text x="1103.3" y="1568.00">regulation of biological process (GO:0050789)</text>
<text x="1103.3" y="1600.55">biological regulation (GO:0065007)</text>
</g>
<text x="1139.6" y="1643.7" font-size="27.1" text-anchor="middle" fill="#4D4D4D">0</text>
<text x="1245.2" y="1643.7" font-size="27.1" text-anchor="middle" fill="#4D4D4D">3</text>
<text x="1350.8" y="1643.7" font-size="27.1" text-anchor="middle" fill="#4D4D4D">6</text>
<text x="1456.4" y="1643.7" font-size="27.1" text-anchor="middle" fill="#4D4D4D">9</text>
<text x="1332.3" y="1681.3" font-size="30.45" text-anchor="middle" fill="#000">Fold Enrichment</text>
<text transform="translate(45.3,1131.5) rotate(-90)" font-size="27.3" text-anchor="middle">GO Term</text>
<text x="1608.6" y="848.0" font-size="23" fill="#000">FDR</text>
<defs><linearGradient id="fdr" x1="0" y1="0" x2="0" y2="1"><stop offset="0.00" stop-color="#2600FF"/><stop offset="0.06" stop-color="#4206FF"/><stop offset="0.13" stop-color="#6E12FF"/><stop offset="0.20" stop-color="#961CFC"/><stop offset="0.25" stop-color="#A320F4"/><stop offset="0.32" stop-color="#B024DA"/><stop offset="0.40" stop-color="#BC27BE"/><stop offset="0.50" stop-color="#C929A2"/><stop offset="0.60" stop-color="#D92A7C"/><stop offset="0.70" stop-color="#E52962"/><stop offset="0.80" stop-color="#EE2648"/><stop offset="0.90" stop-color="#F72330"/><stop offset="1.00" stop-color="#FF2010"/></linearGradient></defs>
<rect x="1608" y="876.3" width="52.2" height="261.8" fill="url(#fdr)"/>
<g stroke="#fff" stroke-width="1.5">
<line x1="1608" y1="906.2" x2="1618.5" y2="906.2"/><line x1="1649.7" y1="906.2" x2="1660.2" y2="906.2"/>
<line x1="1608" y1="968.7" x2="1618.5" y2="968.7"/><line x1="1649.7" y1="968.7" x2="1660.2" y2="968.7"/>
<line x1="1608" y1="1031.1" x2="1618.5" y2="1031.1"/><line x1="1649.7" y1="1031.1" x2="1660.2" y2="1031.1"/>
<line x1="1608" y1="1093.6" x2="1618.5" y2="1093.6"/><line x1="1649.7" y1="1093.6" x2="1660.2" y2="1093.6"/>
</g>
<text x="1677.0" y="915.7" font-size="26.8" fill="#000">1e−03</text>
<text x="1677.0" y="978.2" font-size="26.8" fill="#000">1e−06</text>
<text x="1677.0" y="1040.6" font-size="26.8" fill="#000">1e−09</text>
<text x="1677.0" y="1103.1" font-size="26.8" fill="#000">1e−12</text>
<text x="1608.0" y="1223.9" font-size="27.3" fill="#000">Number of Genes</text>
<circle cx="1633.9" cy="1280.2" r="16.5" fill="#000"/>
<text x="1676.3" y="1289.8" font-size="27.1" fill="#000">25</text>
<circle cx="1633.9" cy="1332.5" r="18.6" fill="#000"/>
<text x="1676.3" y="1342.1" font-size="27.1" fill="#000">50</text>
<circle cx="1633.9" cy="1384.9" r="20.8" fill="#000"/>
<text x="1676.3" y="1394.5" font-size="27.1" fill="#000">75</text>
</g>
</svg>
</body></html>
